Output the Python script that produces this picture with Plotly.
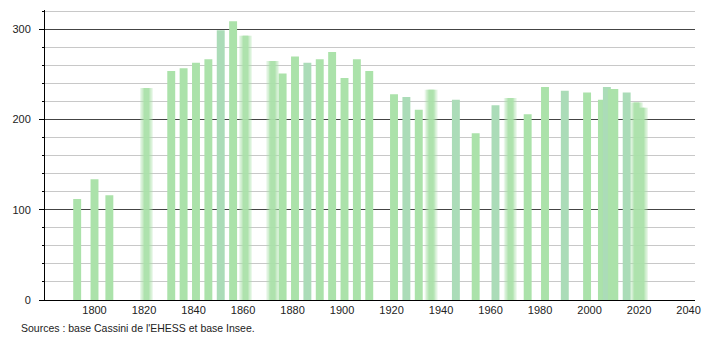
import plotly.graph_objects as go

years = [1793, 1800, 1806, 1821, 1831, 1836, 1841, 1846, 1851, 1856, 1861,
         1872, 1876, 1881, 1886, 1891, 1896, 1901, 1906, 1911,
         1921, 1926, 1931, 1936, 1946, 1954, 1962, 1968, 1975, 1982,
         1990, 1999, 2005, 2007, 2009, 2010, 2015, 2019, 2021]
population = [112, 134, 116, 235, 254, 257, 263, 267, 299, 309, 293,
              265, 251, 270, 263, 267, 275, 246, 267, 254,
              228, 225, 211, 233, 222, 185, 216, 224, 206, 236,
              232, 230, 222, 236, 234, 234, 230, 219, 213]
blurred_years = [1821, 1861, 1872, 1936, 1968, 2019, 2021]
bluish_years = [1851, 1886, 1926, 1946, 1962, 1990, 2015, 2007]
x_ticks = [1800, 1820, 1840, 1860, 1880, 1900, 1920, 1940, 1960, 1980, 2000, 2020, 2040]

GREEN = "#abe2aa"
BLUISH = "#abdcb8"
BAR_W = 3.2

fig = go.Figure()

plain_x = [y for y in years if y not in blurred_years]
plain_v = [population[years.index(y)] for y in plain_x]
plain_c = [BLUISH if y in bluish_years else GREEN for y in plain_x]
fig.add_trace(go.Bar(x=plain_x, y=plain_v, width=BAR_W, marker_color=plain_c,
                     marker_line_width=0, hoverinfo="x+y"))

blur_x = [y for y in years if y in blurred_years]
blur_v = [population[years.index(y)] for y in blur_x]
for w, op in [(5.2, 0.25), (4.2, 0.35), (3.0, 0.55), (2.0, 0.8)]:
    fig.add_trace(go.Bar(x=blur_x, y=blur_v, width=w, marker_color=GREEN,
                         marker_line_width=0, opacity=op, hoverinfo="skip"))

fig.update_layout(
    width=710, height=340,
    margin=dict(l=45, r=9, t=10, b=40),
    paper_bgcolor="white", plot_bgcolor="white",
    barmode="overlay", showlegend=False,
    font=dict(family="Liberation Sans, Arial, sans-serif", size=11, color="#222"),
    xaxis=dict(range=[1780, 2042.6], tickvals=x_ticks, showgrid=False,
               showline=True, linecolor="black", linewidth=1, ticks="",
               zeroline=False, tickfont=dict(size=11)),
    yaxis=dict(range=[0, 321.5], dtick=100, showgrid=True, gridcolor="#444",
               gridwidth=1, showline=True, linecolor="black", linewidth=1,
               ticks="outside", ticklen=5, tickcolor="black", zeroline=False,
               ticklabelstandoff=6, tickfont=dict(size=11),
               minor=dict(dtick=20, showgrid=True, gridcolor="#c8c8c8",
                          gridwidth=1, ticks="outside", ticklen=2,
                          tickcolor="black")),
    annotations=[dict(text="Sources : base Cassini de l'EHESS et base Insee.",
                      xref="paper", yref="paper", x=-0.04, y=-0.098,
                      xanchor="left", yanchor="middle", showarrow=False,
                      font=dict(size=10.5, color="#222"))],
)

fig.write_html("out.html")
